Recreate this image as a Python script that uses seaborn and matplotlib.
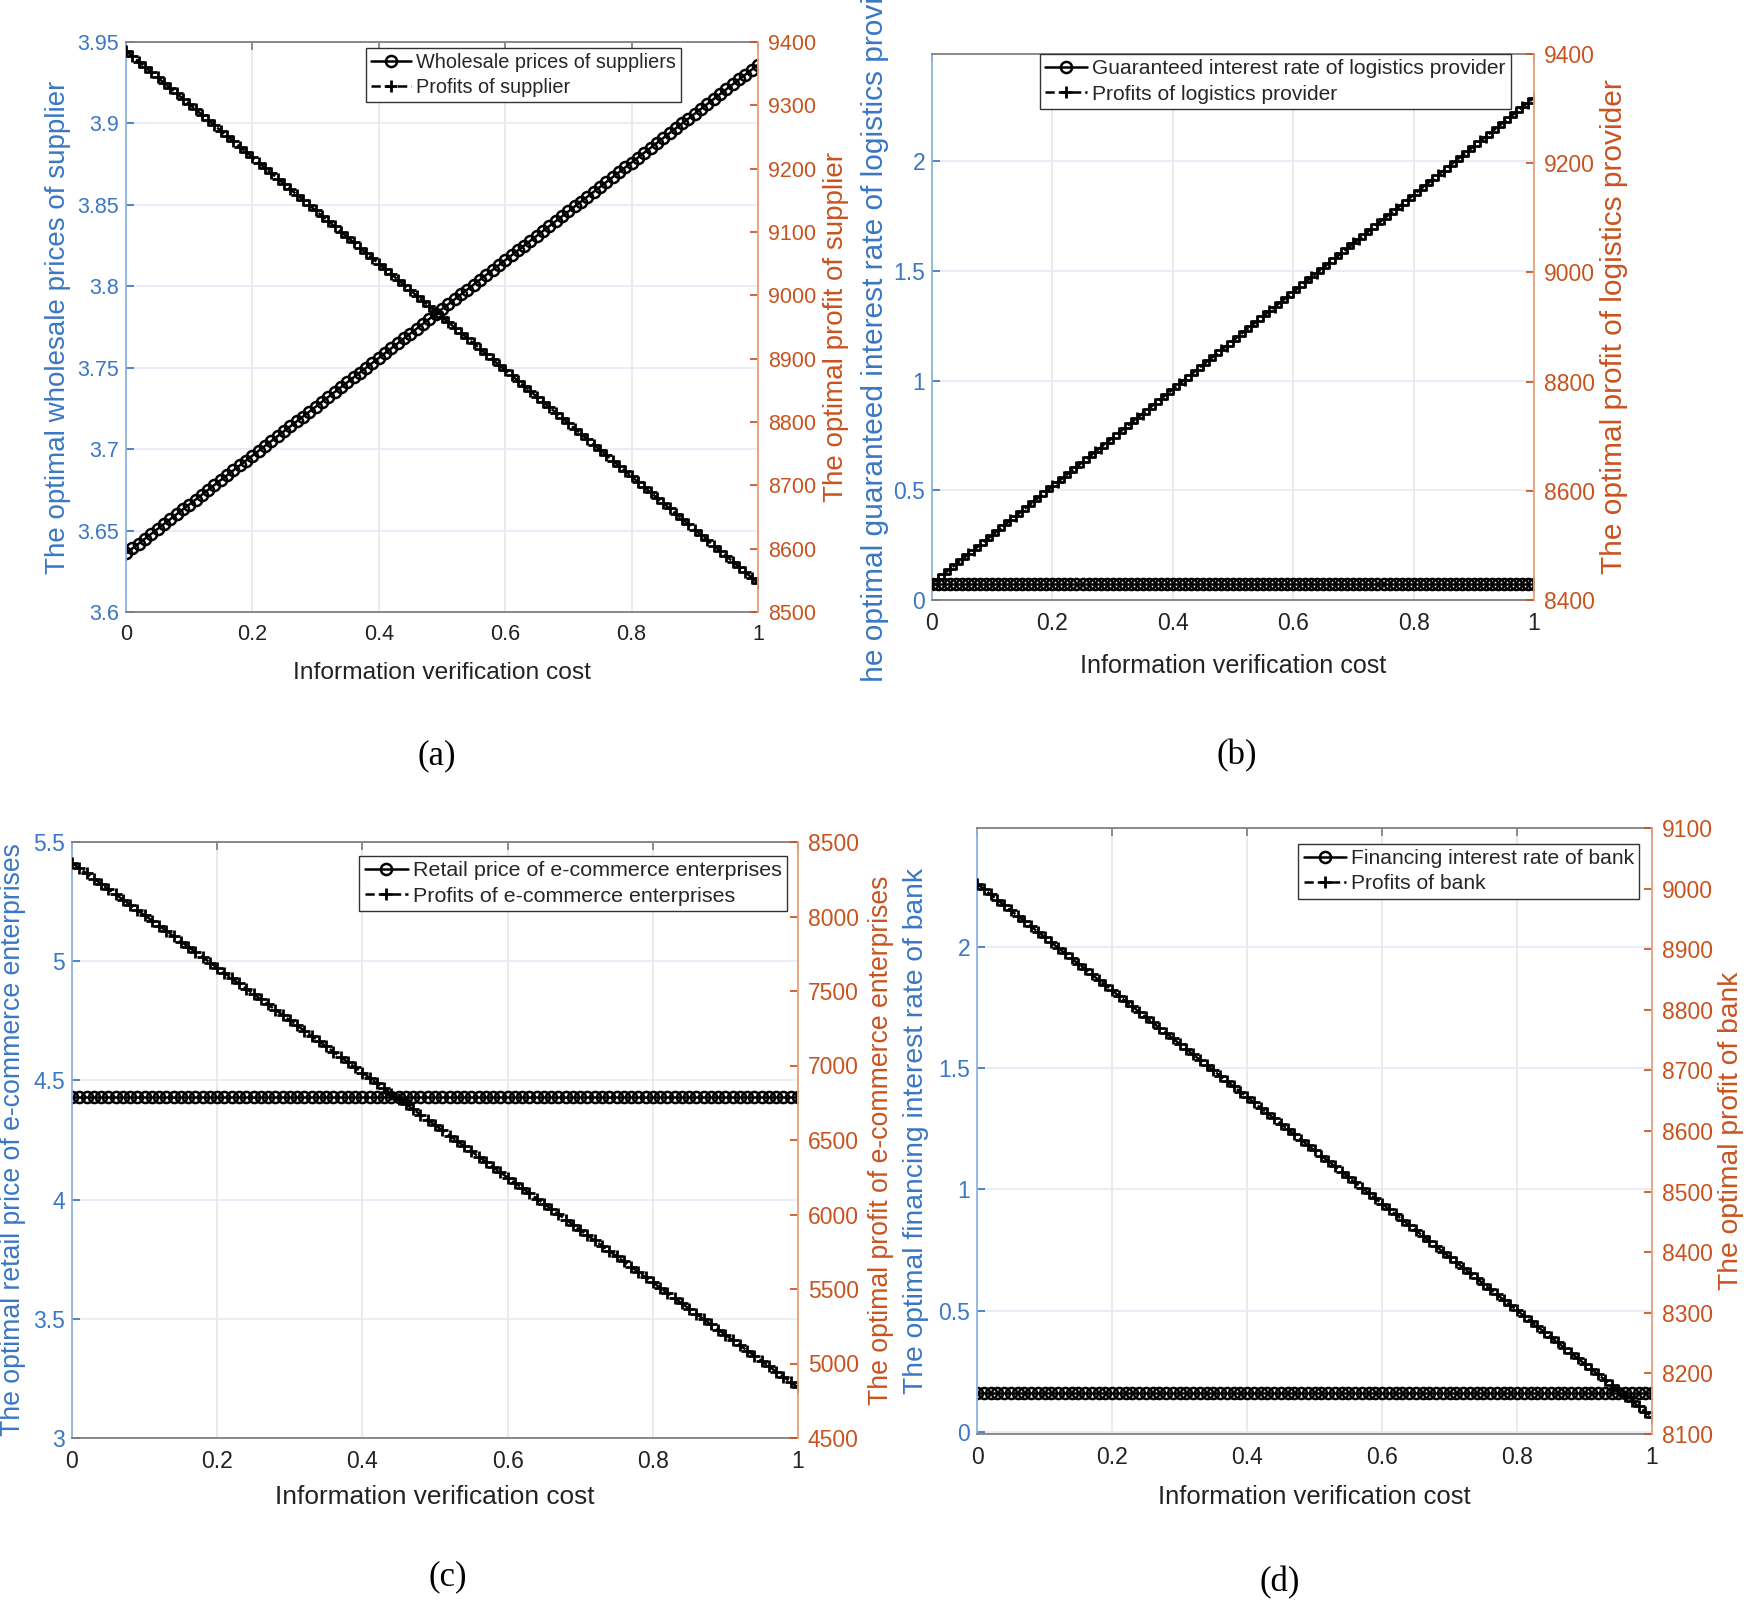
#!/usr/bin/env python3
"""
Four twin-axis panels: optimal decisions and profits vs. information verification cost
"""
import matplotlib
matplotlib.use("Agg")
import matplotlib.pyplot as plt
from matplotlib import font_manager
from matplotlib.transforms import Bbox, TransformedBbox
from matplotlib.ticker import FormatStrFormatter
import seaborn as sns

# ---------------- data ----------------
cost = [0.00, 0.01, 0.02, 0.03, 0.04, 0.05, 0.06, 0.07, 0.08, 0.09,
        0.10, 0.11, 0.12, 0.13, 0.14, 0.15, 0.16, 0.17, 0.18, 0.19,
        0.20, 0.21, 0.22, 0.23, 0.24, 0.25, 0.26, 0.27, 0.28, 0.29,
        0.30, 0.31, 0.32, 0.33, 0.34, 0.35, 0.36, 0.37, 0.38, 0.39,
        0.40, 0.41, 0.42, 0.43, 0.44, 0.45, 0.46, 0.47, 0.48, 0.49,
        0.50, 0.51, 0.52, 0.53, 0.54, 0.55, 0.56, 0.57, 0.58, 0.59,
        0.60, 0.61, 0.62, 0.63, 0.64, 0.65, 0.66, 0.67, 0.68, 0.69,
        0.70, 0.71, 0.72, 0.73, 0.74, 0.75, 0.76, 0.77, 0.78, 0.79,
        0.80, 0.81, 0.82, 0.83, 0.84, 0.85, 0.86, 0.87, 0.88, 0.89,
        0.90, 0.91, 0.92, 0.93, 0.94, 0.95, 0.96, 0.97, 0.98, 0.99,
        1.00]

# (a) supplier
wholesale_price = [3.636, 3.639, 3.642, 3.645, 3.648, 3.651, 3.654, 3.657, 3.660, 3.663,
                   3.666, 3.669, 3.672, 3.675, 3.678, 3.681, 3.684, 3.687, 3.690, 3.693,
                   3.696, 3.699, 3.702, 3.705, 3.708, 3.711, 3.714, 3.717, 3.720, 3.723,
                   3.726, 3.729, 3.732, 3.735, 3.738, 3.741, 3.744, 3.747, 3.750, 3.753,
                   3.756, 3.759, 3.762, 3.765, 3.768, 3.771, 3.774, 3.777, 3.780, 3.783,
                   3.786, 3.789, 3.792, 3.795, 3.798, 3.801, 3.804, 3.807, 3.810, 3.813,
                   3.816, 3.819, 3.822, 3.825, 3.828, 3.831, 3.834, 3.837, 3.840, 3.843,
                   3.846, 3.849, 3.852, 3.855, 3.858, 3.861, 3.864, 3.867, 3.870, 3.873,
                   3.876, 3.879, 3.882, 3.885, 3.888, 3.891, 3.894, 3.897, 3.900, 3.903,
                   3.906, 3.909, 3.912, 3.915, 3.918, 3.921, 3.924, 3.927, 3.930, 3.933,
                   3.936]
supplier_profit = [9386.0, 9377.6, 9369.2, 9360.8, 9352.4, 9344.0, 9335.6, 9327.2, 9318.8, 9310.4,
                   9302.0, 9293.6, 9285.2, 9276.8, 9268.4, 9260.0, 9251.6, 9243.2, 9234.8, 9226.4,
                   9218.0, 9209.6, 9201.2, 9192.8, 9184.4, 9176.0, 9167.6, 9159.2, 9150.8, 9142.4,
                   9134.0, 9125.6, 9117.2, 9108.8, 9100.4, 9092.0, 9083.6, 9075.2, 9066.8, 9058.4,
                   9050.0, 9041.6, 9033.2, 9024.8, 9016.4, 9008.0, 8999.6, 8991.2, 8982.8, 8974.4,
                   8966.0, 8957.6, 8949.2, 8940.8, 8932.4, 8924.0, 8915.6, 8907.2, 8898.8, 8890.4,
                   8882.0, 8873.6, 8865.2, 8856.8, 8848.4, 8840.0, 8831.6, 8823.2, 8814.8, 8806.4,
                   8798.0, 8789.6, 8781.2, 8772.8, 8764.4, 8756.0, 8747.6, 8739.2, 8730.8, 8722.4,
                   8714.0, 8705.6, 8697.2, 8688.8, 8680.4, 8672.0, 8663.6, 8655.2, 8646.8, 8638.4,
                   8630.0, 8621.6, 8613.2, 8604.8, 8596.4, 8588.0, 8579.6, 8571.2, 8562.8, 8554.4,
                   8546.0]

# (b) logistics provider
guaranteed_rate = [0.075, 0.075, 0.075, 0.075, 0.075, 0.075, 0.075, 0.075, 0.075, 0.075,
                   0.075, 0.075, 0.075, 0.075, 0.075, 0.075, 0.075, 0.075, 0.075, 0.075,
                   0.075, 0.075, 0.075, 0.075, 0.075, 0.075, 0.075, 0.075, 0.075, 0.075,
                   0.075, 0.075, 0.075, 0.075, 0.075, 0.075, 0.075, 0.075, 0.075, 0.075,
                   0.075, 0.075, 0.075, 0.075, 0.075, 0.075, 0.075, 0.075, 0.075, 0.075,
                   0.075, 0.075, 0.075, 0.075, 0.075, 0.075, 0.075, 0.075, 0.075, 0.075,
                   0.075, 0.075, 0.075, 0.075, 0.075, 0.075, 0.075, 0.075, 0.075, 0.075,
                   0.075, 0.075, 0.075, 0.075, 0.075, 0.075, 0.075, 0.075, 0.075, 0.075,
                   0.075, 0.075, 0.075, 0.075, 0.075, 0.075, 0.075, 0.075, 0.075, 0.075,
                   0.075, 0.075, 0.075, 0.075, 0.075, 0.075, 0.075, 0.075, 0.075, 0.075,
                   0.075]
logistics_profit = [8430.0, 8438.9, 8447.8, 8456.7, 8465.6, 8474.5, 8483.4, 8492.3, 8501.2, 8510.1,
                    8519.0, 8527.9, 8536.8, 8545.7, 8554.6, 8563.5, 8572.4, 8581.3, 8590.2, 8599.1,
                    8608.0, 8616.9, 8625.8, 8634.7, 8643.6, 8652.5, 8661.4, 8670.3, 8679.2, 8688.1,
                    8697.0, 8705.9, 8714.8, 8723.7, 8732.6, 8741.5, 8750.4, 8759.3, 8768.2, 8777.1,
                    8786.0, 8794.9, 8803.8, 8812.7, 8821.6, 8830.5, 8839.4, 8848.3, 8857.2, 8866.1,
                    8875.0, 8883.9, 8892.8, 8901.7, 8910.6, 8919.5, 8928.4, 8937.3, 8946.2, 8955.1,
                    8964.0, 8972.9, 8981.8, 8990.7, 8999.6, 9008.5, 9017.4, 9026.3, 9035.2, 9044.1,
                    9053.0, 9061.9, 9070.8, 9079.7, 9088.6, 9097.5, 9106.4, 9115.3, 9124.2, 9133.1,
                    9142.0, 9150.9, 9159.8, 9168.7, 9177.6, 9186.5, 9195.4, 9204.3, 9213.2, 9222.1,
                    9231.0, 9239.9, 9248.8, 9257.7, 9266.6, 9275.5, 9284.4, 9293.3, 9302.2, 9311.1,
                    9320.0]

# (c) e-commerce enterprises
retail_price = [4.43, 4.43, 4.43, 4.43, 4.43, 4.43, 4.43, 4.43, 4.43, 4.43,
                4.43, 4.43, 4.43, 4.43, 4.43, 4.43, 4.43, 4.43, 4.43, 4.43,
                4.43, 4.43, 4.43, 4.43, 4.43, 4.43, 4.43, 4.43, 4.43, 4.43,
                4.43, 4.43, 4.43, 4.43, 4.43, 4.43, 4.43, 4.43, 4.43, 4.43,
                4.43, 4.43, 4.43, 4.43, 4.43, 4.43, 4.43, 4.43, 4.43, 4.43,
                4.43, 4.43, 4.43, 4.43, 4.43, 4.43, 4.43, 4.43, 4.43, 4.43,
                4.43, 4.43, 4.43, 4.43, 4.43, 4.43, 4.43, 4.43, 4.43, 4.43,
                4.43, 4.43, 4.43, 4.43, 4.43, 4.43, 4.43, 4.43, 4.43, 4.43,
                4.43, 4.43, 4.43, 4.43, 4.43, 4.43, 4.43, 4.43, 4.43, 4.43,
                4.43, 4.43, 4.43, 4.43, 4.43, 4.43, 4.43, 4.43, 4.43, 4.43,
                4.43]
ecommerce_profit = [8360.0, 8324.8, 8289.6, 8254.4, 8219.2, 8184.0, 8148.8, 8113.6, 8078.4, 8043.2,
                    8008.0, 7972.8, 7937.6, 7902.4, 7867.2, 7832.0, 7796.8, 7761.6, 7726.4, 7691.2,
                    7656.0, 7620.8, 7585.6, 7550.4, 7515.2, 7480.0, 7444.8, 7409.6, 7374.4, 7339.2,
                    7304.0, 7268.8, 7233.6, 7198.4, 7163.2, 7128.0, 7092.8, 7057.6, 7022.4, 6987.2,
                    6952.0, 6916.8, 6881.6, 6846.4, 6811.2, 6776.0, 6740.8, 6705.6, 6670.4, 6635.2,
                    6600.0, 6564.8, 6529.6, 6494.4, 6459.2, 6424.0, 6388.8, 6353.6, 6318.4, 6283.2,
                    6248.0, 6212.8, 6177.6, 6142.4, 6107.2, 6072.0, 6036.8, 6001.6, 5966.4, 5931.2,
                    5896.0, 5860.8, 5825.6, 5790.4, 5755.2, 5720.0, 5684.8, 5649.6, 5614.4, 5579.2,
                    5544.0, 5508.8, 5473.6, 5438.4, 5403.2, 5368.0, 5332.8, 5297.6, 5262.4, 5227.2,
                    5192.0, 5156.8, 5121.6, 5086.4, 5051.2, 5016.0, 4980.8, 4945.6, 4910.4, 4875.2,
                    4840.0]

# (d) bank
financing_rate = [0.16, 0.16, 0.16, 0.16, 0.16, 0.16, 0.16, 0.16, 0.16, 0.16,
                  0.16, 0.16, 0.16, 0.16, 0.16, 0.16, 0.16, 0.16, 0.16, 0.16,
                  0.16, 0.16, 0.16, 0.16, 0.16, 0.16, 0.16, 0.16, 0.16, 0.16,
                  0.16, 0.16, 0.16, 0.16, 0.16, 0.16, 0.16, 0.16, 0.16, 0.16,
                  0.16, 0.16, 0.16, 0.16, 0.16, 0.16, 0.16, 0.16, 0.16, 0.16,
                  0.16, 0.16, 0.16, 0.16, 0.16, 0.16, 0.16, 0.16, 0.16, 0.16,
                  0.16, 0.16, 0.16, 0.16, 0.16, 0.16, 0.16, 0.16, 0.16, 0.16,
                  0.16, 0.16, 0.16, 0.16, 0.16, 0.16, 0.16, 0.16, 0.16, 0.16,
                  0.16, 0.16, 0.16, 0.16, 0.16, 0.16, 0.16, 0.16, 0.16, 0.16,
                  0.16, 0.16, 0.16, 0.16, 0.16, 0.16, 0.16, 0.16, 0.16, 0.16,
                  0.16]
bank_profit = [9008.0, 8999.2, 8990.4, 8981.6, 8972.8, 8964.0, 8955.2, 8946.4, 8937.6, 8928.8,
               8920.0, 8911.2, 8902.4, 8893.6, 8884.8, 8876.0, 8867.2, 8858.4, 8849.6, 8840.8,
               8832.0, 8823.2, 8814.4, 8805.6, 8796.8, 8788.0, 8779.2, 8770.4, 8761.6, 8752.8,
               8744.0, 8735.2, 8726.4, 8717.6, 8708.8, 8700.0, 8691.2, 8682.4, 8673.6, 8664.8,
               8656.0, 8647.2, 8638.4, 8629.6, 8620.8, 8612.0, 8603.2, 8594.4, 8585.6, 8576.8,
               8568.0, 8559.2, 8550.4, 8541.6, 8532.8, 8524.0, 8515.2, 8506.4, 8497.6, 8488.8,
               8480.0, 8471.2, 8462.4, 8453.6, 8444.8, 8436.0, 8427.2, 8418.4, 8409.6, 8400.8,
               8392.0, 8383.2, 8374.4, 8365.6, 8356.8, 8348.0, 8339.2, 8330.4, 8321.6, 8312.8,
               8304.0, 8295.2, 8286.4, 8277.6, 8268.8, 8260.0, 8251.2, 8242.4, 8233.6, 8224.8,
               8216.0, 8207.2, 8198.4, 8189.6, 8180.8, 8172.0, 8163.2, 8154.4, 8145.6, 8136.8,
               8128.0]

x_ticks = [0, 0.2, 0.4, 0.6, 0.8, 1]

# ---------------- styling ----------------
sns.set_theme(style="white")
plt.rcParams['font.family'] = ['Liberation Sans', 'DejaVu Sans']
names = {f.name for f in font_manager.fontManager.ttflist}
NARROW = 'Liberation Sans Narrow' in names
narrow_family = ['Liberation Sans Narrow', 'Liberation Sans'] if NARROW else ['Liberation Sans']
narrow_scale = 1.0 if NARROW else 0.84

BLUE = "#3a77c4"
BLUE_SPINE = "#8db2de"
ORANGE = "#c9531f"
ORANGE_SPINE = "#e6a07f"
GRAY = "#808080"

W, H = 1748, 1607


def rect(l, r, t, b):
    return [l / W, 1 - b / H, (r - l) / W, (b - t) / H]


panels = [
    dict(box=(126, 758, 42, 612), y1=wholesale_price, y2=supplier_profit,
         ylim1=(3.6, 3.95), yt1=[3.6, 3.65, 3.7, 3.75, 3.8, 3.85, 3.9, 3.95],
         ylim2=(8500, 9400), yt2=list(range(8500, 9401, 100)),
         lab1="The optimal wholesale prices of supplier", lab2="The optimal profit of supplier",
         lx1=58, lx2=836, lsize=20, tsize=15.5, xlab_y=673, xsize=21,
         leg=("Wholesale prices of suppliers", "Profits of supplier"), leg_anchor=(0.878, 0.99), legsize=17,
         tag="(a)", tag_xy=(437, 756)),
    dict(box=(932, 1534, 54, 600), y1=guaranteed_rate, y2=logistics_profit,
         ylim1=(0, 2.49), yt1=[0, 0.5, 1, 1.5, 2],
         ylim2=(8400, 9400), yt2=list(range(8400, 9401, 200)),
         lab1="The optimal guaranteed interest rate of logistics provider",
         lab2="The optimal profit of logistics provider",
         lx1=875, lx2=1614, lsize=21.5, tsize=16.5, xlab_y=666, xsize=21.5,
         leg=("Guaranteed interest rate of logistics provider", "Profits of logistics provider"),
         leg_anchor=(0.962, 1.0), legsize=18, tag="(b)", tag_xy=(1237, 756), clip_bottom=683),
    dict(box=(72, 798, 842, 1438), y1=retail_price, y2=ecommerce_profit,
         ylim1=(3, 5.5), yt1=[3, 3.5, 4, 4.5, 5, 5.5],
         ylim2=(4500, 8500), yt2=list(range(4500, 8501, 500)),
         lab1="The optimal retail price of e-commerce enterprises",
         lab2="The optimal profit of e-commerce enterprises",
         lx1=13, lx2=881, lsize=19.2, tsize=16.5, xlab_y=1497, xsize=22.5,
         leg=("Retail price of e-commerce enterprises", "Profits of e-commerce enterprises"),
         leg_anchor=(0.985, 0.977), legsize=18.4, tag="(c)", tag_xy=(448, 1577)),
    dict(box=(977, 1652, 828, 1434), y1=financing_rate, y2=bank_profit,
         ylim1=(-0.008, 2.49), yt1=[0, 0.5, 1, 1.5, 2],
         ylim2=(8100, 9100), yt2=list(range(8100, 9101, 100)),
         lab1="The optimal financing interest rate of bank", lab2="The optimal profit of bank",
         lx1=916, lx2=1731, lsize=20.3, tsize=16.5, xlab_y=1497, xsize=22,
         leg=("Financing interest rate of bank", "Profits of bank"),
         leg_anchor=(0.981, 0.974), legsize=18, tag="(d)", tag_xy=(1280, 1583)),
]

fig = plt.figure(figsize=(W / 100, H / 100), dpi=100)

for p in panels:
    l, r, t, b = p["box"]
    ax = fig.add_axes(rect(l, r, t, b))
    ax2 = ax.twinx()

    sns.lineplot(x=cost, y=p["y1"], ax=ax, color="black", linewidth=1.8, marker="o",
                 markersize=8, markerfacecolor="none", markeredgecolor="black",
                 markeredgewidth=1.8, legend=False)
    sns.lineplot(x=cost, y=p["y2"], ax=ax2, color="black", linewidth=1.8, linestyle="--",
                 marker="+", markersize=8.5, markeredgecolor="black", markeredgewidth=2.0,
                 legend=False)

    ax.set_xlim(0, 1)
    ax.set_xticks(x_ticks)
    ax.xaxis.set_major_formatter(FormatStrFormatter('%g'))
    ax.set_ylim(*p["ylim1"])
    ax.set_yticks(p["yt1"])
    ax.yaxis.set_major_formatter(FormatStrFormatter('%g'))
    ax2.set_ylim(*p["ylim2"])
    ax2.set_yticks(p["yt2"])
    ax2.yaxis.set_major_formatter(FormatStrFormatter('%g'))

    # grid: vertical gray, horizontal tinted with the left axis colour
    ax.set_axisbelow(True)
    ax.grid(axis="x", color="#e4e4e4", linewidth=1.1)
    ax.grid(axis="y", color="#e1eaf6", linewidth=1.1)

    ax.tick_params(axis="x", direction="in", length=6, color=GRAY, labelcolor="#222222",
                   labelsize=p["tsize"], pad=9, top=True)
    ax.tick_params(axis="y", direction="in", length=6, color=BLUE, labelcolor=BLUE,
                   labelsize=p["tsize"], pad=5)
    ax2.tick_params(axis="y", direction="in", length=6, color=ORANGE, labelcolor=ORANGE,
                    labelsize=p["tsize"], pad=7)

    for side in ("top", "bottom"):
        ax.spines[side].set_color(GRAY)
        ax.spines[side].set_linewidth(1.3)
        ax2.spines[side].set_visible(False)
    ax.spines["left"].set_color(BLUE_SPINE)
    ax.spines["left"].set_linewidth(1.3)
    ax.spines["right"].set_visible(False)
    ax2.spines["left"].set_visible(False)
    ax2.spines["right"].set_color(ORANGE_SPINE)
    ax2.spines["right"].set_linewidth(1.3)

    yc = 1 - (t + b) / 2 / H
    ax.set_ylabel(p["lab1"], color=BLUE, fontsize=p["lsize"])
    ax.yaxis.set_label_coords(p["lx1"] / W, yc, transform=fig.transFigure)
    ax.yaxis.label.set_va("center")
    ax2.set_ylabel(p["lab2"], color=ORANGE, fontsize=p["lsize"], rotation=90)
    ax2.yaxis.set_label_coords(p["lx2"] / W, yc, transform=fig.transFigure)
    ax2.yaxis.label.set_va("center")

    ax.set_xlabel("Information verification cost", color="#222222",
                  fontsize=p["xsize"] * narrow_scale, family=narrow_family)
    ax.xaxis.set_label_coords((l + r) / 2 / W, 1 - p["xlab_y"] / H, transform=fig.transFigure)
    ax.xaxis.label.set_va("center")

    if "clip_bottom" in p:
        # the left label of panel (b) is cut off by the subfigure crop
        cb = 1 - p["clip_bottom"] / H
        box = TransformedBbox(Bbox.from_extents(0.45, cb, 0.55, 1.0), fig.transFigure)
        ax.yaxis.label.set_clip_box(box)
        ax.yaxis.label.set_clip_on(True)

    h1 = ax.lines[0]
    h2 = ax2.lines[0]
    leg = ax2.legend([h1, h2], list(p["leg"]), loc="upper right", bbox_to_anchor=p["leg_anchor"],
                     frameon=True, fancybox=False, framealpha=1, edgecolor="#333333",
                     handlelength=2.0, handletextpad=0.25, borderpad=0.25, labelspacing=0.3,
                     borderaxespad=0, numpoints=1,
                     prop=dict(family=narrow_family, size=p["legsize"] * narrow_scale))
    leg.get_frame().set_linewidth(1.0)

    fig.text(p["tag_xy"][0] / W, 1 - p["tag_xy"][1] / H, p["tag"], ha="center", va="center",
             fontsize=25, family=["Liberation Serif", "DejaVu Serif"], color="black")

fig.savefig("out.png", dpi=100)
